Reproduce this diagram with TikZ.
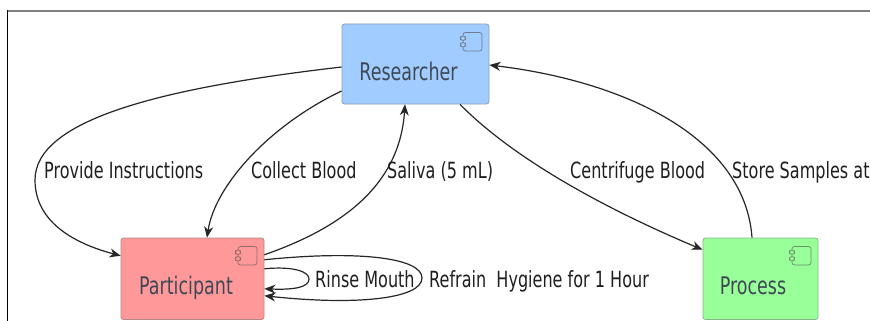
\documentclass[tikz,border=0pt]{standalone}
\usepackage{fontspec}
\setmainfont{DejaVu Sans}[FakeStretch=0.72]
\usetikzlibrary{arrows.meta,calc}

\definecolor{resfill}{HTML}{A0CCFF}
\definecolor{parfill}{HTML}{FF9999}
\definecolor{profill}{HTML}{99FF99}
\definecolor{namecol}{HTML}{3E4854}
\definecolor{edgecol}{HTML}{262626}

\tikzset{
  comp/.style={rectangle, rounded corners=2.5pt, line width=0.8pt,
    fill=#1, draw=#1!62!black!75, inner sep=0pt,
    path picture={
      \coordinate (ne) at (path picture bounding box.north east);
      \draw[line width=0.7pt, draw=#1!45!black!80]
        ($(ne)+(-26,8.5)$) rectangle ($(ne)+(-7,27)$);
      \draw[line width=0.7pt, draw=#1!45!black!80, fill=#1]
        ($(ne)+(-28.5,12)$) rectangle ($(ne)+(-23.5,16.5)$)
        ($(ne)+(-28.5,18.5)$) rectangle ($(ne)+(-23.5,23)$);
    }},
  nametext/.style={font=\fontsize{24.3}{28}\selectfont, text=namecol,
    inner sep=0pt, anchor=base},
  edgelabel/.style={font=\fontsize{22.3}{26}\selectfont, text=black!88,
    inner sep=0pt, anchor=base west},
  conn/.style={draw=edgecol, line width=1.2pt,
    -{Stealth[length=11pt, width=9pt, inset=3.5pt]}},
}

\begin{document}
\begin{tikzpicture}[x=1pt, y=-1pt]
  \clip (0,0) rectangle (870,321);
  \fill[white] (0,0) rectangle (870,321);

  % outer frame
  \draw[line width=2pt, draw=black!50] (7,11) -- (871,11);
  \draw[line width=1pt, draw=black] (7,10) -- (7,322);

  % components
  \node[comp=resfill, minimum width=147pt, minimum height=80pt]
    (R) at (415.5,64) {};
  \node[comp=parfill, minimum width=143pt, minimum height=81.5pt]
    (P) at (192.5,278.75) {};
  \node[comp=profill, minimum width=115pt, minimum height=81.5pt]
    (Pr) at (760.5,278.75) {};

  \node[nametext] (Rt) at ($(R.north)+(-7,57)$) {Researcher};
  \node[nametext] (Pt) at ($(P.north)+(-6.5,57)$) {Participant};
  \node[nametext] (Prt) at ($(Pr.north)+(-7.5,57)$) {Process};

  % researcher -> participant
  \draw[conn] ([yshift=-3pt]R.west) .. controls (160,88) and (35,120) .. (35,180)
    .. controls (35,225) and (80,245) .. ([yshift=23pt]P.west);
  \draw[conn] ([yshift=-27pt]R.west) .. controls (270,125) and (215,185)
    .. ([xshift=14.5pt]P.north);

  % participant -> researcher
  \draw[conn] ([yshift=24pt]P.east) .. controls (350,225) and (400,180)
    .. ([xshift=-10.5pt]R.south);

  % researcher <-> process
  \draw[conn] ([xshift=44.5pt]R.south) .. controls (520,165) and (620,215)
    .. ([yshift=29pt]Pr.west);
  \draw[conn] ([xshift=-8.5pt]Pr.north) .. controls (745,140) and (630,82)
    .. ([yshift=-1pt]R.east);

  % participant self loops
  \draw[conn] ([yshift=10pt]P.east) .. controls (295,266) and (309,272) .. (309,279)
    .. controls (309,287) and (295,290) .. ([yshift=-10pt]P.east);
  \draw[conn] ([yshift=19pt]P.east) .. controls (360,250) and (422,258) .. (422,278)
    .. controls (422,298) and (360,306) .. ([yshift=-17pt]P.east);

  % connector labels
  \node[edgelabel] (l1) at (44,178) {Provide Instructions};
  \node[edgelabel] (l2) at (251,178) {Collect Blood};
  \node[edgelabel] (l3) at (387,178) {Saliva (5 mL)};
  \node[edgelabel] (l4) at (570,178) {Centrifuge Blood};
  \node[edgelabel] (l5) at (732,178) {Store Samples at};
  \node[edgelabel] (l6) at (315,287) {Rinse Mouth};
  \node[edgelabel] (l7) at (429,287) {Refrain\space\space Hygiene for 1 Hour};
\end{tikzpicture}
\end{document}
